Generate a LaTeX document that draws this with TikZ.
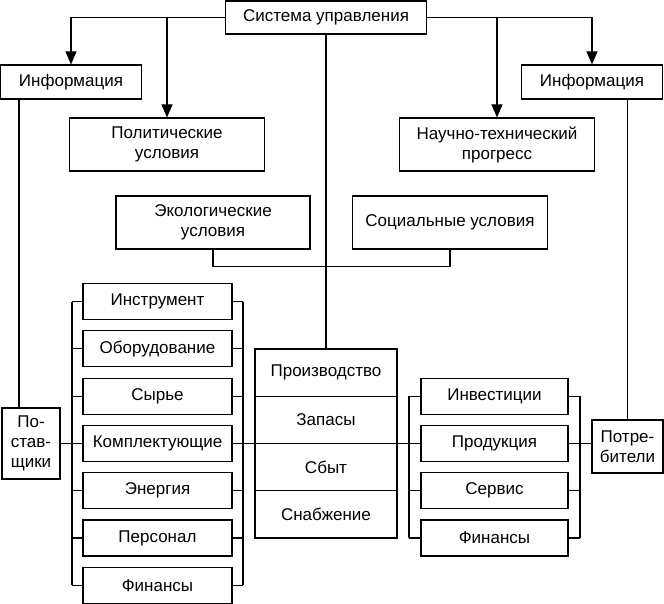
\documentclass[tikz,border=0pt]{standalone}
\usepackage{fontspec}
\setmainfont{Liberation Sans}
\usetikzlibrary{arrows.meta,calc}
\begin{document}
\begin{tikzpicture}[x=1pt,y=-1pt, line width=1.1pt,
 box/.style={draw, inner sep=0pt, align=center, font=\fontsize{17}{20}\selectfont},
 arr/.style={-{Triangle[length=13pt,width=11pt]}}]
\useasboundingbox (0,0) rectangle (664,604);
\node[box, minimum width=201pt, minimum height=33pt] (sys) at (326,17.5) {Система управления};
\node[box, minimum width=141pt, minimum height=34pt] (inf1) at (71,82) {Информация};
\node[box, minimum width=195pt, minimum height=53pt] (pol) at (167,144.5) {Политические\\условия};
\node[box, minimum width=141pt, minimum height=34pt] (inf2) at (592,82) {Информация};
\node[box, minimum width=195pt, minimum height=53pt] (nt) at (497,144.5) {Научно-технический\\прогресс};
\node[box, minimum width=194pt, minimum height=53pt] (eco) at (213,222.5) {Экологические\\условия};
\node[box, minimum width=195pt, minimum height=53pt] (soc) at (450,222.5) {Социальные условия};
\foreach \t [count=\i] in {Инструмент,Оборудование,Сырье,Комплектующие,Энергия,Персонал,Финансы}
  \node[box, minimum width=149pt, minimum height=36pt] (l\i) at (157.5,{301.5+47.3*(\i-1)}) {\t};
\foreach \t [count=\i] in {Производство,Запасы,Сбыт,Снабжение}
  \node[box, minimum width=142pt, minimum height=47.25pt] (c\i) at (326,{372.6+47.25*(\i-1)}) {\t};
\foreach \t [count=\i] in {Инвестиции,Продукция,Сервис,Финансы}
  \node[box, minimum width=147pt, minimum height=36pt] (r\i) at (494.5,{396.1+47.3*(\i-1)}) {\t};
\node[box, minimum width=58pt, minimum height=71pt] (post) at (31,443.5) {По-\\став-\\щики};
\node[box, minimum width=71pt, minimum height=53pt] (potr) at (627.5,446.5) {Потре-\\бители};
% arrows from top
\draw[arr] (sys.west) -| (inf1.north);
\draw[arr] (sys.west -| pol.north) -- (pol.north);
\draw[arr] (sys.east) -| (inf2.north);
\draw[arr] (sys.east -| nt.north) -- (nt.north);
\draw (sys.south) -- (c1.north);
\coordinate (j) at ($(eco.south)+(0,17)$);
\draw (eco.south) -- (j) -| (soc.south);
\coordinate (pl) at (19,0);
\draw (inf1.south -| pl) -- (post.north -| pl);
\draw (inf2.south -| potr.north) -- (potr.north);
% left brackets
\coordinate (lb) at (72,0);
\coordinate (rb) at (243,0);
\draw (l1.west -| lb) -- (l7.west -| lb);
\draw (l1.east -| rb) -- (l7.east -| rb);
\foreach \i in {1,...,7} {
  \draw (l\i.west) -- (l\i.west -| lb);
  \draw (l\i.east) -- (l\i.east -| rb);
}
\draw (post.east |- l4.west) -- (l4.west);
\draw (l4.east) -- (l4.east -| c2.west);
\draw (r2.west -| c2.east) -- (r2.west);
% right brackets
\coordinate (rl) at (409,0);
\coordinate (rr) at (580,0);
\draw (r1.west -| rl) -- (r4.west -| rl);
\draw (r1.east -| rr) -- (r4.east -| rr);
\foreach \i in {1,...,4} {
  \draw (r\i.west) -- (r\i.west -| rl);
  \draw (r\i.east) -- (r\i.east -| rr);
}
\draw (r2.east -| rr) -- (r2.east -| potr.west);
\end{tikzpicture}
\end{document}
